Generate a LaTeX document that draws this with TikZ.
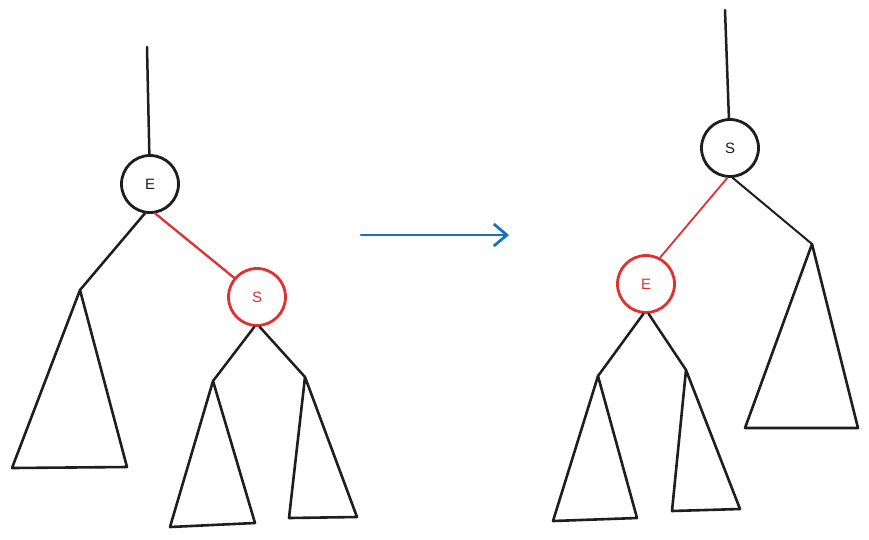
\documentclass[tikz,border=0pt]{standalone}
\usepackage{fontspec}
\setmainfont{Liberation Sans}
\usetikzlibrary{arrows.meta}
\definecolor{ink}{HTML}{1E1E1E}
\definecolor{redink}{HTML}{E03131}
\definecolor{blueink}{HTML}{1971C2}
\begin{document}
\begin{tikzpicture}[x=1pt,y=-1pt,
  edge/.style={draw=ink,line width=2.5pt,line cap=round,line join=round},
  redge/.style={draw=redink,line width=2.3pt,line cap=round},
  keynode/.style={circle,draw=ink,line width=2.8pt,minimum size=57pt,inner sep=0pt,font=\fontsize{15}{15}\selectfont,text=ink},
  rednode/.style={keynode,draw=redink,text=redink},
  subtree/.style={draw=ink,line width=2.6pt,line join=round,line cap=round}]
\useasboundingbox (0,0) rectangle (869,539);
\fill[white] (0,0) rectangle (869,539);

% left: E above S
\coordinate (lroot) at (147,47);
\node[keynode] (lE) at (150,184) {E};
\node[rednode] (lS) at (257,297) {S};
\coordinate (la) at (80,290);
\coordinate (lb) at (213,381);
\coordinate (lc) at (305,377);
\draw[edge] (lroot) -- (lE);
\draw[edge] (lE.-100) -- (la);
\draw[redge] (lE.-80) -- (lS.140);
\draw[edge] (lS.-95) -- (lb);
\draw[edge] (lS.-85) -- (lc);
\draw[subtree] (la) -- (12,468) -- (127,467) -- cycle;
\draw[subtree] (lb) -- (170,527) -- (255,523) -- cycle;
\draw[subtree] (lc) -- (289,518) -- (357,517) -- cycle;

% rotation arrow
\coordinate (arrA) at (361,235);
\coordinate (arrB) at (509,235);
\draw[blueink,line width=2.8pt,line cap=round,-{Straight Barb[length=13pt,width=22pt,line width=2.8pt]}] (arrA) -- (arrB);

% right: S above E
\coordinate (rroot) at (725,10);
\node[keynode] (rS) at (730,148) {S};
\node[rednode] (rE) at (646,284) {E};
\coordinate (ra) at (812,244);
\coordinate (rb) at (598,376);
\coordinate (rc) at (686,370);
\draw[edge] (rroot) -- (rS);
\draw[redge,line width=1.8pt] (rS.-95) -- (rE.62);
\draw[edge,line width=2pt] (rS.-85) -- (ra);
\draw[edge] (rE.-95) -- (rb);
\draw[edge] (rE.-85) -- (rc);
\draw[subtree] (ra) -- (745,428) -- (858,428) -- cycle;
\draw[subtree] (rb) -- (553,521) -- (637,518) -- cycle;
\draw[subtree] (rc) -- (672,511) -- (740,509) -- cycle;
\end{tikzpicture}
\end{document}
